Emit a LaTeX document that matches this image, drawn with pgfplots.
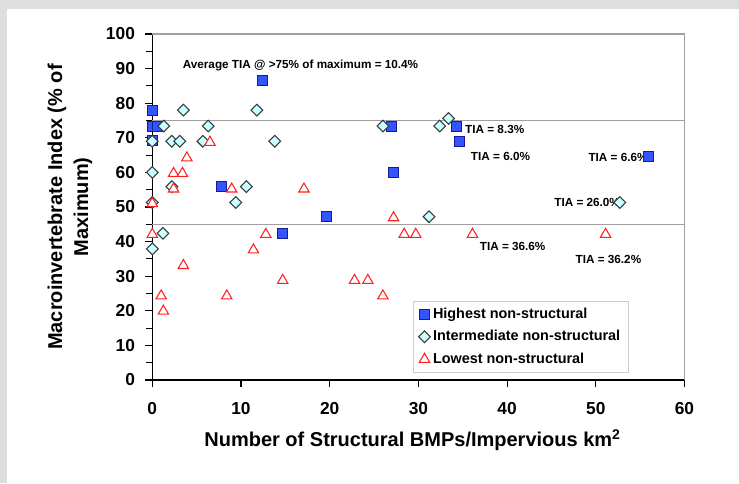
\documentclass[border=0pt]{standalone}
\usepackage{pgfplots}
\pgfplotsset{compat=1.18}
\usetikzlibrary{backgrounds}
\usepackage{fontspec}
\setmainfont{Liberation Sans}
\definecolor{bgGray}{HTML}{DEDEDE}
\definecolor{blueF}{HTML}{3355FF}
\definecolor{blueD}{HTML}{1A1A99}
\definecolor{cyanF}{HTML}{CCFFFF}
\definecolor{cyanD}{HTML}{333B3B}
\definecolor{redT}{HTML}{FF2020}
\definecolor{lineG}{HTML}{A0A0A0}
\begin{document}
\begin{tikzpicture}
\begin{axis}[
  at={(0pt,0pt)}, anchor=origin,
  width=399.15pt, height=259.5pt, scale only axis,
  xmin=0, xmax=60, ymin=0, ymax=100,
  axis x line*=bottom, axis y line*=left,
  axis line style={black, line width=0.8pt},
  xtick={0,10,...,60}, ytick={0,10,...,100},
  minor y tick num=1,
  tick align=outside,
  major tick length=5.5pt, minor tick length=4.5pt,
  tick style={black, line width=0.8pt},
  tick label style={font=\bfseries\fontsize{13}{15}\selectfont},
  /pgf/number format/assume math mode=true,
  xticklabel style={yshift=-8pt},
  yticklabel style={xshift=-4pt},
  xlabel={Number of Structural BMPs/Impervious km\textsuperscript{2}},
  ylabel={Macroinvertebrate Index (\% of\\Maximum)},
  label style={font=\bfseries\fontsize{15}{19.5}\selectfont},
  xlabel style={at={(axis description cs:0.489,-0.191)}, anchor=base},
  ylabel style={at={(axis description cs:-0.1547,0.5)}, anchor=center, align=center},
  clip=false,
  legend style={at={(0.490,0.2283)}, anchor=north west, draw=gray!40,
    font=\bfseries\fontsize{10.8}{12}\selectfont, row sep=3.6pt,
    inner xsep=4pt, inner ysep=3pt, cells={anchor=west}},
  legend image code/.code={\draw[mark repeat=2,mark phase=2,#1] plot coordinates {(0cm,0cm)(0.15cm,0cm)(0.3cm,0cm)};},
]
\draw[lineG, line width=1.2pt] (axis cs:0,75) -- (axis cs:60,75);
\draw[lineG, line width=1.2pt] (axis cs:0,45) -- (axis cs:60,45);
\draw[lineG, line width=1pt] (axis cs:0,100) -- (axis cs:60,100) -- (axis cs:60,0);

\addplot[only marks, mark=square*, mark size=3.75pt, mark options={fill=blueF, draw=blueD, line width=0.7pt}] coordinates {
(0,78) (0,73.4) (0.6,73.4) (0,69.3) (12.4,86.7) (7.8,55.9) (14.7,42.4) (19.6,47.2)
(27.0,73.4) (27.2,60) (34.3,73.4) (34.6,69) (55.9,64.5)
};
\addlegendentry{Highest non-structural}

\addplot[only marks, mark=square*, mark size=3.1pt, mark options={rotate=45, fill=cyanF, draw=cyanD, line width=0.8pt}] coordinates {
(0,69) (0,60) (0,51.3) (0,37.9) (1.2,42.4) (1.3,73.4) (2.2,69) (3.1,69) (5.7,69)
(2.2,55.9) (3.5,78) (6.3,73.4) (9.4,51.3) (10.6,55.9) (11.8,78) (13.8,69)
(26.0,73.4) (31.2,47.2) (32.4,73.4) (33.4,75.6) (52.7,51.3)
};
\addlegendentry{Intermediate non-structural}

\addplot[only marks, mark=triangle*, mark size=4.5pt, mark options={fill=white, draw=redT, line width=0.8pt}] coordinates {
(0,51) (0,42.1) (1.0,24.3) (1.25,19.9) (2.4,59.7) (3.4,59.7) (2.4,55.2) (3.5,33.1)
(3.9,64.2) (6.5,68.7) (8.4,24.3) (8.95,55.2) (11.4,37.6) (12.8,42.1) (14.7,28.8)
(17.1,55.2) (22.8,28.8) (24.3,28.8) (26.0,24.3) (27.2,46.9) (28.4,42.1) (29.7,42.1)
(36.1,42.1) (51.1,42.1)
};
\addlegendentry{Lowest non-structural}

\begin{scope}[font=\bfseries\fontsize{8.8}{10}\selectfont]
\node[inner sep=0pt, anchor=center] at (axis cs:16.71,91.0) {Average TIA @ >75\% of maximum = 10.4\%};
\node[inner sep=0pt, anchor=west] at (axis cs:35.25,72.5) {TIA = 8.3\%};
\node[inner sep=0pt, anchor=west] at (axis cs:35.9,64.7) {TIA = 6.0\%};
\node[inner sep=0pt, anchor=west] at (axis cs:49.15,64.3) {TIA = 6.6\%};
\node[inner sep=0pt, anchor=west] at (axis cs:45.3,51.4) {TIA = 26.0\%};
\node[inner sep=0pt, anchor=west] at (axis cs:36.9,38.5) {TIA = 36.6\%};
\node[inner sep=0pt, anchor=west] at (axis cs:47.7,34.9) {TIA = 36.2\%};
\end{scope}
\end{axis}
\begin{scope}[on background layer]
\fill[bgGray] (-114.225pt,-77.25pt) rectangle (440.025pt,285pt);
\fill[white] (-108.975pt,-77.25pt) rectangle (440.025pt,278.25pt);
\end{scope}
\pgfresetboundingbox
\path[use as bounding box] (-114.225pt,-77.25pt) rectangle (440.025pt,285pt);
\end{tikzpicture}
\end{document}
